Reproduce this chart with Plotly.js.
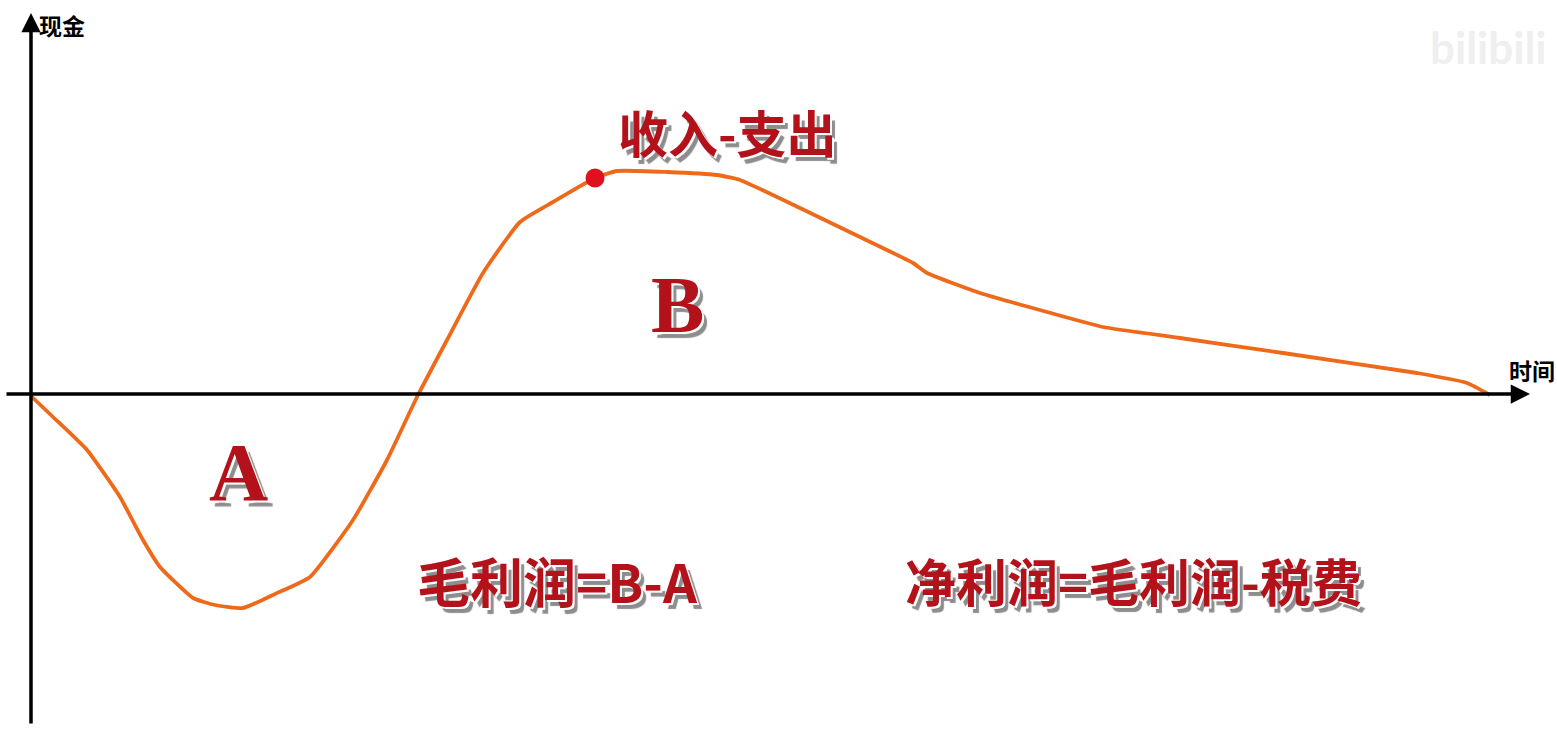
<!DOCTYPE html>
<html>
<head>
<meta charset="utf-8">
<script src="https://cdn.plot.ly/plotly-3.0.1.min.js"></script>
<style>
html,body{margin:0;padding:0;background:#fff;}
#chart{width:1557px;height:734px;}
</style>
</head>
<body>
<div id="chart"></div>
<script>
// Time (horizontal) and cash (vertical) values of the cash-flow curve
const time = [0, 22, 56, 89, 112, 129, 162, 184, 212, 244, 279, 322, 356, 386, 416, 452, 489, 522, 564, 586, 636, 686, 709, 769, 829, 882, 896, 949, 1016, 1072, 1149, 1252, 1386, 1436, 1459];
const cash = [-2, -23, -56, -103, -146, -173, -204, -211, -214, -200, -183, -126, -66, -3, 54, 121, 172, 192, 216, 223, 222, 219, 214, 186, 157, 131, 121, 101, 82, 67, 56, 41, 21, 11, -1];

// Highlighted point (收入-支出)
const peakTime = [564];
const peakCash = [216];

// Axis extents
const xAxisStart = -26, xAxisEnd = 1499;
const yAxisStart = -331, yAxisEnd = 381;

// Labels
const labels = {
  yTitle: '现金',
  xTitle: '时间',
  peak: '收入-支出',
  areaA: 'A',
  areaB: 'B',
  gross: '毛利润=B-A',
  net: '净利润=毛利润-税费',
  mark: 'bilibili'
};

const CJK = '"Noto Sans CJK SC", "Noto Sans", sans-serif';
const SERIF = '"Liberation Serif", "DejaVu Serif", serif';
const RED = '#b3121b';
const SHADOW = '2px 2px 0 #fff, 5px 6px 1px #8d8d8d';

const traces = [
  {
    x: time, y: cash, type: 'scatter', mode: 'lines',
    line: {color: '#ee6a1a', width: 3.8, shape: 'spline', smoothing: 0.45},
    hoverinfo: 'skip'
  },
  {
    x: peakTime, y: peakCash, type: 'scatter', mode: 'markers',
    marker: {color: '#e0101e', size: 19},
    hoverinfo: 'skip'
  }
];

function bigText(text, x, y, size, family) {
  return {
    x: x, y: y, xref: 'x', yref: 'y', text: text, showarrow: false,
    xanchor: 'center', yanchor: 'middle',
    font: {family: family, size: size, color: RED, weight: 'bold', shadow: SHADOW}
  };
}

const annotations = [
  // horizontal axis with arrow
  {x: xAxisEnd, y: 0, ax: xAxisStart, ay: 0, xref: 'x', yref: 'y', axref: 'x', ayref: 'y',
   text: '', showarrow: true, arrowhead: 2, arrowsize: 1.1, arrowwidth: 3.5, arrowcolor: '#000', standoff: 0, startstandoff: 0},
  // vertical axis with arrow
  {x: 0, y: yAxisEnd, ax: 0, ay: yAxisStart, xref: 'x', yref: 'y', axref: 'x', ayref: 'y',
   text: '', showarrow: true, arrowhead: 2, arrowsize: 1.1, arrowwidth: 3.5, arrowcolor: '#000', standoff: 0, startstandoff: 0},
  {x: 31, y: 369, xref: 'x', yref: 'y', text: labels.yTitle, showarrow: false,
   font: {family: CJK, size: 23, color: '#000', weight: 'bold'}},
  {x: 1501, y: 24, xref: 'x', yref: 'y', text: labels.xTitle, showarrow: false,
   font: {family: CJK, size: 23, color: '#000', weight: 'bold'}},
  bigText(labels.peak, 727 - 31, 263, 50, CJK),
  bigText(labels.areaB, 646, 89, 80, SERIF),
  bigText(labels.areaA, 207, -78, 82, SERIF),
  bigText(labels.gross, 526, -186, 53, CJK),
  bigText(labels.net, 1102, -186, 51, CJK),
  {x: 1457, y: 347, xref: 'x', yref: 'y', text: labels.mark, showarrow: false,
   font: {family: 'Lato, "Open Sans", sans-serif', size: 44, color: '#efefef', weight: 'bold'}}
];

const layout = {
  width: 1557, height: 734,
  margin: {l: 0, r: 0, t: 0, b: 0, pad: 0},
  paper_bgcolor: '#fff', plot_bgcolor: '#fff',
  showlegend: false,
  xaxis: {range: [-31, 1526], visible: false, fixedrange: true},
  yaxis: {range: [-340, 394], visible: false, fixedrange: true},
  annotations: annotations
};

Plotly.newPlot('chart', traces, layout, {displayModeBar: false, staticPlot: true});
</script>
</body>
</html>
